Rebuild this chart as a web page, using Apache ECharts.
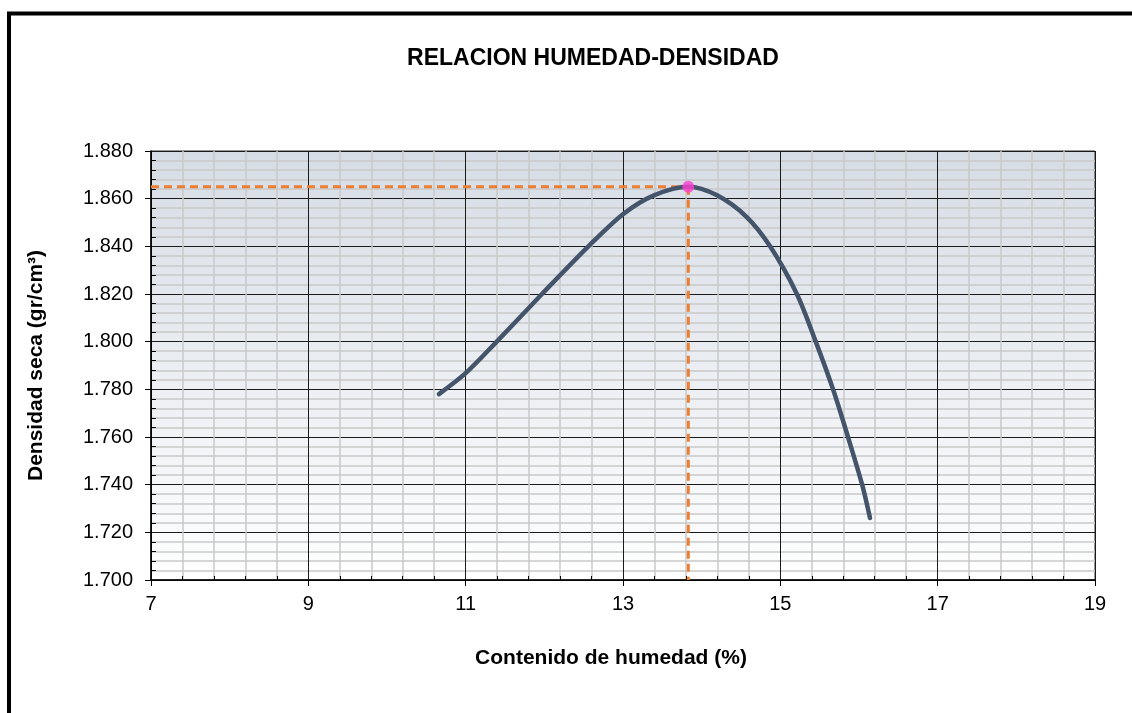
<!DOCTYPE html>
<html>
<head>
<meta charset="utf-8">
<script src="https://cdn.jsdelivr.net/npm/echarts@6/dist/echarts.min.js"></script>
<style>
  html, body { margin: 0; padding: 0; background: #ffffff; }
  #chart { width: 1132px; height: 713px; }
</style>
</head>
<body>
<div id="chart"></div>
<script>
// Compaction curve: moisture content (%) vs. dry density (gr/cm³)
const moistureX = [10.66, 11.0, 11.38, 11.97, 12.56, 13.0, 13.4, 13.83, 14.19, 14.57, 14.87, 15.21, 15.45, 15.67, 15.86, 16.04, 16.14];
const densityY  = [1.778, 1.7868, 1.7995, 1.820, 1.840, 1.8535, 1.8615, 1.865, 1.8615, 1.8524, 1.840, 1.820, 1.800, 1.780, 1.760, 1.740, 1.726];

// Optimum moisture content and maximum dry density
const optimumMoisture = 13.83;
const maxDensity = 1.865;

// Axis ranges and tick steps
const xRange = [7, 19];
const xStep = 2;
const yRange = [1.700, 1.880];
const yStep = 0.020;

const curveData = moistureX.map((x, i) => [x, densityY[i]]);

const FONT = "'Liberation Sans', Arial, sans-serif";
const chart = echarts.init(document.getElementById('chart'));

chart.setOption({
  backgroundColor: '#ffffff',
  animation: false,
  title: {
    text: 'RELACION HUMEDAD-DENSIDAD',
    left: 588,
    textAlign: 'center',
    top: 42,
    textStyle: { fontFamily: FONT, fontWeight: 'bold', fontSize: 23, color: '#000' }
  },
  graphic: [{
    type: 'rect',
    shape: { x: 9, y: 13.5, width: 1300, height: 900 },
    style: { fill: 'none', stroke: '#000', lineWidth: 4 },
    silent: true,
    z: 100
  }],
  grid: {
    left: 151, right: 37, top: 151, bottom: 133,
    show: true,
    borderColor: '#333',
    borderWidth: 1,
    backgroundColor: {
      type: 'linear', x: 0, y: 0, x2: 0, y2: 1,
      colorStops: [
        { offset: 0, color: '#d6dce5' },
        { offset: 1, color: '#ffffff' }
      ]
    }
  },
  xAxis: {
    type: 'value',
    min: xRange[0], max: xRange[1], interval: xStep,
    name: 'Contenido de humedad (%)',
    nameLocation: 'middle',
    nameGap: 68,
    nameTextStyle: { fontFamily: FONT, fontWeight: 'bold', fontSize: 21, color: '#000', padding: [0, 24, 0, 0] },
    axisLine: { show: true, lineStyle: { color: '#000', width: 1.5 } },
    axisTick: { show: true, length: 6, lineStyle: { color: '#000', width: 1 } },
    minorTick: { show: true, splitNumber: 5, length: -4, lineStyle: { color: '#000', width: 1 } },
    axisLabel: { fontFamily: FONT, fontSize: 20, color: '#000', margin: 14 },
    splitLine: { show: true, lineStyle: { color: '#1a1a1a', width: 1 } },
    minorSplitLine: { show: true, lineStyle: { color: '#c9c9c9', width: 1.5 } }
  },
  yAxis: {
    type: 'value',
    min: yRange[0], max: yRange[1], interval: yStep,
    name: 'Densidad seca (gr/cm³)',
    nameLocation: 'middle',
    nameGap: 104,
    nameRotate: 90,
    nameTextStyle: { fontFamily: FONT, fontWeight: 'bold', fontSize: 21, color: '#000' },
    axisLine: { show: true, lineStyle: { color: '#000', width: 1.5 } },
    axisTick: { show: true, length: 6, lineStyle: { color: '#000', width: 1 } },
    minorTick: { show: true, splitNumber: 5, length: -5, lineStyle: { color: '#000', width: 1 } },
    axisLabel: {
      fontFamily: FONT, fontSize: 20, color: '#000', margin: 18,
      formatter: v => v.toFixed(3)
    },
    splitLine: { show: true, lineStyle: { color: '#1a1a1a', width: 1 } },
    minorSplitLine: { show: true, lineStyle: { color: '#c9c9c9', width: 1.5 } }
  },
  series: [
    {
      name: 'guide-h',
      type: 'line',
      data: [[xRange[0], maxDensity], [optimumMoisture, maxDensity]],
      symbol: 'none',
      lineStyle: { color: '#ed7d31', width: 3, type: [8, 5] },
      z: 3
    },
    {
      name: 'guide-v',
      type: 'line',
      data: [[optimumMoisture, maxDensity], [optimumMoisture, yRange[0]]],
      symbol: 'none',
      lineStyle: { color: '#ed7d31', width: 3, type: [8, 5] },
      z: 3
    },
    {
      name: 'curva',
      type: 'line',
      data: curveData,
      smooth: 0.3,
      symbol: 'none',
      lineStyle: { color: '#44546a', width: 4.5, cap: 'round' },
      z: 4
    },
    {
      name: 'optimo',
      type: 'scatter',
      data: [[optimumMoisture, maxDensity]],
      symbol: 'circle',
      symbolSize: 12,
      itemStyle: { color: '#ff3fd2' },
      z: 5
    }
  ]
});
</script>
</body>
</html>
